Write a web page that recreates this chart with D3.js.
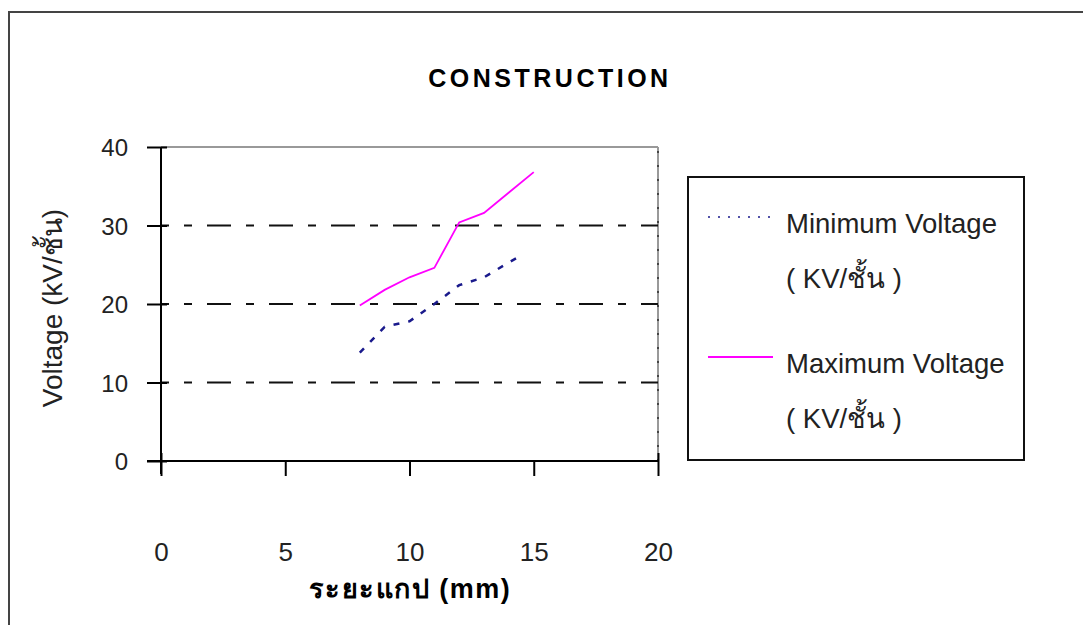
<!DOCTYPE html>
<html>
<head>
  <meta charset="utf-8">
  <title>CONSTRUCTION</title>
  <script src="https://cdn.jsdelivr.net/npm/d3@7"></script>
  <style>
    body { margin: 0; background: #fff; }
    text { font-family: "Liberation Sans", Arial, "DejaVu Sans", sans-serif; }
  </style>
</head>
<body>
<script>
// data
var gapMm = [8, 9, 10, 11, 12, 13, 14, 15];
var maxVoltage = [19.8, 21.8, 23.4, 24.6, 30.4, 31.6, 34.2, 36.8];
var minGapMm = [8, 9, 10, 11, 12, 13, 14, 14.5];
var minVoltage = [13.8, 17.1, 17.8, 20.0, 22.4, 23.4, 25.3, 26.2];
var xTicks = [0, 5, 10, 15, 20];
var yTicks = [0, 10, 20, 30, 40];
var gridValues = [10, 20, 30];
var seriesNames = ["Minimum Voltage", "Maximum Voltage"];
var unitLabel = "( KV/ชั้น )";

var width = 1083, height = 625;
var svg = d3.select("body").append("svg").attr("width", width).attr("height", height);

// outer frame (runs off the right and bottom edge)
svg.append("rect")
  .attr("x", 9).attr("y", 12).attr("width", 1200).attr("height", 800)
  .attr("fill", "none").attr("stroke", "#444").attr("stroke-width", 2);

var x = d3.scaleLinear().domain([0, 20]).range([161, 658]);
var y = d3.scaleLinear().domain([0, 40]).range([461, 147]);

// title
svg.append("text")
  .attr("x", 550).attr("y", 87)
  .attr("text-anchor", "middle")
  .attr("font-size", "25px").attr("font-weight", "bold")
  .attr("letter-spacing", "3.5px")
  .text("CONSTRUCTION");

// plot frame top / right
svg.append("line")
  .attr("x1", x(0)).attr("x2", x(20)).attr("y1", y(40)).attr("y2", y(40))
  .attr("stroke", "#999").attr("stroke-width", 2);
svg.append("line")
  .attr("x1", x(20)).attr("x2", x(20)).attr("y1", y(40)).attr("y2", y(0))
  .attr("stroke", "#999").attr("stroke-width", 2);
svg.append("line")
  .attr("x1", x(20)).attr("x2", x(20)).attr("y1", y(40) + 4).attr("y2", y(0))
  .attr("stroke", "#444").attr("stroke-width", 2).attr("stroke-dasharray", "2,12");

// dash-dot gridlines
svg.append("g").selectAll("line")
  .data(gridValues)
  .join("line")
  .attr("x1", x(0)).attr("x2", x(20))
  .attr("y1", function(d) { return y(d); })
  .attr("y2", function(d) { return y(d); })
  .attr("stroke", "#111").attr("stroke-width", 2)
  .attr("stroke-dasharray", "24,15,8,15")
  .attr("stroke-dashoffset", 16);

// y axis
var gy = svg.append("g")
  .attr("transform", "translate(" + x(0) + ",0)")
  .call(d3.axisLeft(y).tickValues(yTicks).tickSizeOuter(0));
gy.select(".domain").remove();
gy.selectAll(".tick line").attr("x1", -14).attr("x2", 6).attr("stroke", "#000").attr("stroke-width", 2);
gy.selectAll(".tick text")
  .attr("x", -33).attr("dy", "0.36em")
  .attr("font-size", "24px").attr("fill", "#222")
  .attr("font-family", "\"Liberation Sans\", Arial, sans-serif");
gy.append("line")
  .attr("x1", 0).attr("x2", 0).attr("y1", y(40)).attr("y2", y(0) + 13)
  .attr("stroke", "#000").attr("stroke-width", 2);

// x axis
var gx = svg.append("g")
  .attr("transform", "translate(0," + y(0) + ")")
  .call(d3.axisBottom(x).tickValues(xTicks).tickSizeOuter(0));
gx.select(".domain").remove();
gx.selectAll(".tick line").attr("y1", 0).attr("y2", 15).attr("stroke", "#000").attr("stroke-width", 2);
gx.selectAll(".tick line").filter(function(d) { return d === 0 || d === 20; }).attr("y1", -8);
gx.selectAll(".tick text")
  .attr("y", 100).attr("dy", 0)
  .attr("font-size", "26px").attr("fill", "#222")
  .attr("font-family", "\"Liberation Sans\", Arial, sans-serif");
gx.append("line")
  .attr("x1", x(0) - 14).attr("x2", x(20)).attr("y1", 0).attr("y2", 0)
  .attr("stroke", "#000").attr("stroke-width", 2);

// axis titles
svg.append("text")
  .attr("x", 410).attr("y", 598)
  .attr("text-anchor", "middle")
  .attr("font-size", "27px").attr("font-weight", "bold")
  .attr("letter-spacing", "1.5px")
  .text("ระยะแกป (mm)");

svg.append("text")
  .attr("transform", "translate(62,308) rotate(-90)")
  .attr("text-anchor", "middle")
  .attr("font-size", "28px").attr("fill", "#222")
  .text("Voltage (kV/ชั้น)");

// series
var minLine = d3.line()
  .x(function(d, i) { return x(minGapMm[i]); })
  .y(function(d) { return y(d); });
var maxLine = d3.line()
  .x(function(d, i) { return x(gapMm[i]); })
  .y(function(d) { return y(d); });

svg.append("path")
  .datum(minVoltage)
  .attr("fill", "none").attr("stroke", "#1a1a8c").attr("stroke-width", 2.5)
  .attr("stroke-dasharray", "6,9")
  .attr("d", minLine);

svg.append("path")
  .datum(maxVoltage)
  .attr("fill", "none").attr("stroke", "#ff00ff").attr("stroke-width", 1.8)
  .attr("d", maxLine);

// legend
var legend = svg.append("g");
legend.append("rect")
  .attr("x", 688).attr("y", 177).attr("width", 336).attr("height", 283)
  .attr("fill", "#fff").attr("stroke", "#111").attr("stroke-width", 2);

var legendY = [217, 357];
var legendStyle = [
  { stroke: "#1a1a8c", dash: "2,8", width: 1.5 },
  { stroke: "#ff00ff", dash: null, width: 1.8 }
];
seriesNames.forEach(function(name, i) {
  legend.append("line")
    .attr("x1", 708).attr("x2", 773)
    .attr("y1", legendY[i]).attr("y2", legendY[i])
    .attr("stroke", legendStyle[i].stroke)
    .attr("stroke-width", legendStyle[i].width)
    .attr("stroke-dasharray", legendStyle[i].dash);
  legend.append("text")
    .attr("x", 786).attr("y", legendY[i] + 16)
    .attr("font-size", "27.5px").attr("fill", "#222")
    .text(name);
  legend.append("text")
    .attr("x", 786).attr("y", legendY[i] + 71)
    .attr("font-size", "27.5px").attr("fill", "#222")
    .text(unitLabel);
});
</script>
</body>
</html>
